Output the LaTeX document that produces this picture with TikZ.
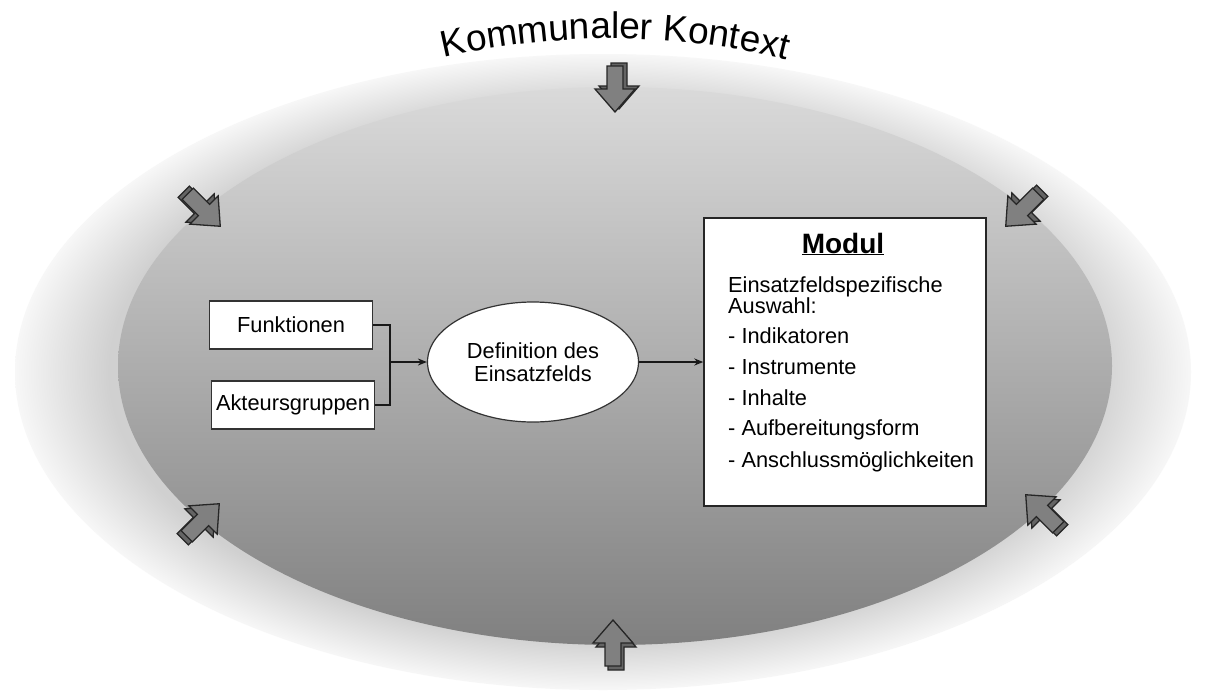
\documentclass[tikz,border=0pt]{standalone}
\usepackage{fontspec}
\setmainfont{Liberation Sans}
\usetikzlibrary{shapes.geometric,arrows.meta,decorations.text}
\definecolor{ringin}{RGB}{208,208,208}
\definecolor{ringout}{RGB}{247,247,247}
\definecolor{intop}{RGB}{218,218,218}
\definecolor{inbot}{RGB}{128,128,128}
\definecolor{arrfill}{RGB}{128,128,128}
\definecolor{arrback}{RGB}{100,100,100}
\pgfdeclareradialshading{ringshade}{\pgfpoint{0bp}{0bp}}{color(0bp)=(ringin); color(21bp)=(ringin); color(25bp)=(ringout); color(50bp)=(ringout)}
\newcommand\titlefont{\fontsize{37}{40}\selectfont}
\newcommand\blockarr[5]{%
  \begin{scope}[shift={({#1+(#4)},{#2+(#5)})},rotate=#3]
    \draw[arrline,fill=arrback] (-23,-8) -- (0,-8) -- (0,-20) -- (23,0) -- (0,20) -- (0,8) -- (-23,8) -- cycle;
  \end{scope}
  \begin{scope}[shift={(#1,#2)},rotate=#3]
    \draw[arrline,fill=arrfill] (-23,-8) -- (0,-8) -- (0,-20) -- (23,0) -- (0,20) -- (0,8) -- (-23,8) -- cycle;
  \end{scope}}
\tikzset{
  arrline/.style={draw=black!85,line width=1.3pt,line join=miter},
  lbl/.style={font=\fontsize{21.8}{23.5}\selectfont},
  smallbox/.style={draw=black!80,line width=1.2pt,fill=white,minimum width=163pt,minimum height=48pt,inner sep=0pt,lbl},
  conn/.style={draw=black!90,line width=1.3pt},
}
\begin{document}
\begin{tikzpicture}[x=1pt,y=-1pt]
\useasboundingbox (0,0) rectangle (1208,697);
\fill[white] (0,0) rectangle (1208,697);
% outer ring
\shade[shading=ringshade] (603,372) ellipse [x radius=588pt, y radius=318pt];
% inner ellipse
\shade[top color=intop,bottom color=inbot] (615,366) ellipse [x radius=497pt, y radius=279pt];
% title
\path[decorate,decoration={text along path,text align=center,text={|\titlefont|Kommunaler Kontext}}]
  (410,67) .. controls (540,29) and (690,29) .. (820,69);
% block arrows
\blockarr{615}{89}{-90}{4}{-3}
\blockarr{613}{643}{90}{3}{4}
\blockarr{204}{210}{-45}{-4}{-2}
\blockarr{1022}{210}{-135}{4}{-3}
\blockarr{203}{520}{45}{-4}{3}
\blockarr{1042}{511}{135}{4}{3}
% nodes
\node[smallbox] (fk) at (291,325) {Funktionen};
\node[smallbox] (ak) at (293,405) {Akteursgruppen};
\node[ellipse,draw=black!80,line width=1.2pt,fill=white,minimum width=211pt,minimum height=120pt,inner sep=0pt,lbl,align=center] (def) at (533,362) {Definition des\\Einsatzfelds};
\node[draw=black!85,line width=1.4pt,fill=white,minimum width=282pt,minimum height=288pt,inner sep=0pt] (modul) at (845,362) {};
\coordinate (j) at (390,362);
\draw[conn] (fk.east) -| (j) |- (ak.east);
\draw[conn,-{Stealth[length=9pt,width=7pt]}] (j) -- (def.west);
\draw[conn,line width=1.6pt,-{Stealth[length=9pt,width=7pt]}] (def.east) -- (modul.west);
% modul content
\node[anchor=base,font=\fontsize{28}{30}\selectfont\bfseries] (mt) at (843,253) {\underline{Modul}};
\node[lbl,anchor=base west,inner sep=0pt] (m1) at (728,292) {Einsatzfeldspezifische};
\node[lbl,anchor=base west,inner sep=0pt] (m2) at (728,313) {Auswahl:};
\node[lbl,anchor=base west,inner sep=0pt] (m3) at (728,343) {- Indikatoren};
\node[lbl,anchor=base west,inner sep=0pt] (m4) at (728,374) {- Instrumente};
\node[lbl,anchor=base west,inner sep=0pt] (m5) at (728,405) {- Inhalte};
\node[lbl,anchor=base west,inner sep=0pt] (m6) at (728,435) {- Aufbereitungsform};
\node[lbl,anchor=base west,inner sep=0pt] (m7) at (728,467) {- Anschlussmöglichkeiten};
\end{tikzpicture}
\end{document}
